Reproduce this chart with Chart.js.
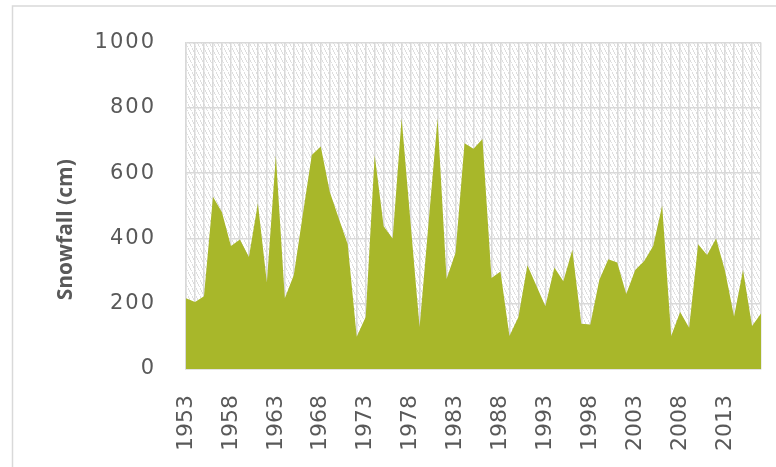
<!DOCTYPE html>
<html>
<head>
<meta charset="utf-8">
<script src="https://cdn.jsdelivr.net/npm/chart.js@4.4.0/dist/chart.umd.min.js"></script>
<style>
  html, body { margin: 0; padding: 0; background: #ffffff; }
  #wrap { position: relative; width: 776px; height: 467px; }
</style>
</head>
<body>
<div id="wrap"><canvas id="snow"></canvas></div>
<script>
// Annual snowfall, one value per season
const years = [
  1953, 1954, 1955, 1956, 1957, 1958, 1959, 1960, 1961, 1962,
  1963, 1964, 1965, 1966, 1967, 1968, 1969, 1970, 1971, 1972,
  1973, 1974, 1975, 1976, 1977, 1978, 1979, 1980, 1981, 1982,
  1983, 1984, 1985, 1986, 1987, 1988, 1989, 1990, 1991, 1992,
  1993, 1994, 1995, 1996, 1997, 1998, 1999, 2000, 2001, 2002,
  2003, 2004, 2005, 2006, 2007, 2008, 2009, 2010, 2011, 2012,
  2013, 2014, 2015, 2016, 2017
];
const snowfallCm = [
  217, 205, 223, 528, 480, 377, 397, 343, 508, 265,
  654, 217, 288, 473, 656, 682, 543, 462, 382, 99,
  159, 656, 437, 400, 768, 446, 129, 448, 768, 276,
  356, 692, 675, 705, 279, 299, 101, 159, 318, 255,
  192, 311, 269, 365, 139, 136, 273, 336, 326, 230,
  303, 331, 377, 501, 101, 175, 126, 382, 349, 400,
  300, 161, 303, 132, 170
];
const labeledYears = [1953, 1958, 1963, 1968, 1973, 1978, 1983, 1988, 1993, 1998, 2003, 2008, 2013];
const yTicks = [0, 200, 400, 600, 800, 1000];
const yTitle = 'Snowfall (cm)';

const GRID = '#d9d9d9';
const TEXT = '#595959';
const FILL = '#a8b72a';

// steep downward-diagonal hatch behind the plot
function makeHatch() {
  const c = document.createElement('canvas');
  c.width = 4; c.height = 8;
  const g = c.getContext('2d');
  g.fillStyle = '#ffffff';
  g.fillRect(0, 0, 4, 8);
  g.fillStyle = '#dedede';
  for (let y = 0; y < 8; y++) {
    if (y === 7) continue;
    g.fillRect(Math.floor(y / 2), y, 1, 1);
  }
  return g.createPattern(c, 'repeat');
}

const backdrop = {
  id: 'backdrop',
  beforeDraw(chart) {
    const { ctx, chartArea: a } = chart;
    ctx.save();
    // outer frame
    ctx.strokeStyle = GRID;
    ctx.lineWidth = 1.5;
    ctx.beginPath();
    ctx.moveTo(12.5, chart.height + 5);
    ctx.lineTo(12.5, 6);
    ctx.lineTo(chart.width + 5, 6);
    ctx.stroke();
    // plot area hatch
    ctx.fillStyle = makeHatch();
    ctx.fillRect(a.left, a.top, a.right - a.left, a.bottom - a.top);
    ctx.restore();
  }
};

// wider spacing for the value-axis labels, drawn above the datasets
const spacing = {
  id: 'spacing',
  afterDatasetsDraw(chart) { chart.ctx.letterSpacing = '2px'; },
  afterDraw(chart) { chart.ctx.letterSpacing = '0px'; }
};

const axisTitle = {
  id: 'axisTitle',
  afterDraw(chart) {
    const { ctx, chartArea: a } = chart;
    ctx.save();
    ctx.translate(66, (a.top + a.bottom) / 2 + 24);
    ctx.rotate(-Math.PI / 2);
    ctx.font = 'bold 21px "Open Sans"';
    ctx.fillStyle = TEXT;
    ctx.textAlign = 'center';
    ctx.textBaseline = 'middle';
    ctx.fillText(yTitle, 0, 0);
    ctx.restore();
  }
};

new Chart(document.getElementById('snow'), {
  type: 'line',
  data: {
    labels: years,
    datasets: [{
      data: snowfallCm,
      fill: 'origin',
      backgroundColor: FILL,
      borderWidth: 0,
      borderColor: FILL,
      pointRadius: 0,
      tension: 0
    }]
  },
  options: {
    responsive: true,
    maintainAspectRatio: false,
    animation: false,
    layout: { padding: { top: 39, right: 15, left: 0, bottom: 0 } },
    plugins: {
      legend: { display: false },
      tooltip: { enabled: false }
    },
    scales: {
      x: {
        type: 'category',
        offset: false,
        grid: { color: GRID, lineWidth: 1.5, drawTicks: false },
        border: { color: GRID, width: 1.5 },
        ticks: {
          autoSkip: false,
          minRotation: 90,
          maxRotation: 90,
          padding: 26,
          color: TEXT,
          font: { family: '"DejaVu Sans"', size: 22 },
          callback(value, index) {
            const y = years[index];
            return labeledYears.includes(y) ? String(y) : '';
          }
        },
        afterFit(scale) {
          scale.height = 98;
          scale.paddingLeft = 0;
          scale.paddingRight = 0;
        }
      },
      y: {
        min: yTicks[0],
        max: yTicks[yTicks.length - 1],
        grid: { color: GRID, lineWidth: 1.5, drawTicks: false },
        border: { color: GRID, width: 1.5 },
        afterBuildTicks(scale) { scale.ticks = yTicks.map(v => ({ value: v })); },
        ticks: {
          z: 1,
          padding: 30,
          color: TEXT,
          font: { family: '"DejaVu Sans"', size: 21 },
          callback(value) { return String(value); }
        },
        afterFit(scale) { scale.width = 186; }
      }
    }
  },
  plugins: [backdrop, spacing, axisTitle]
});
</script>
</body>
</html>
